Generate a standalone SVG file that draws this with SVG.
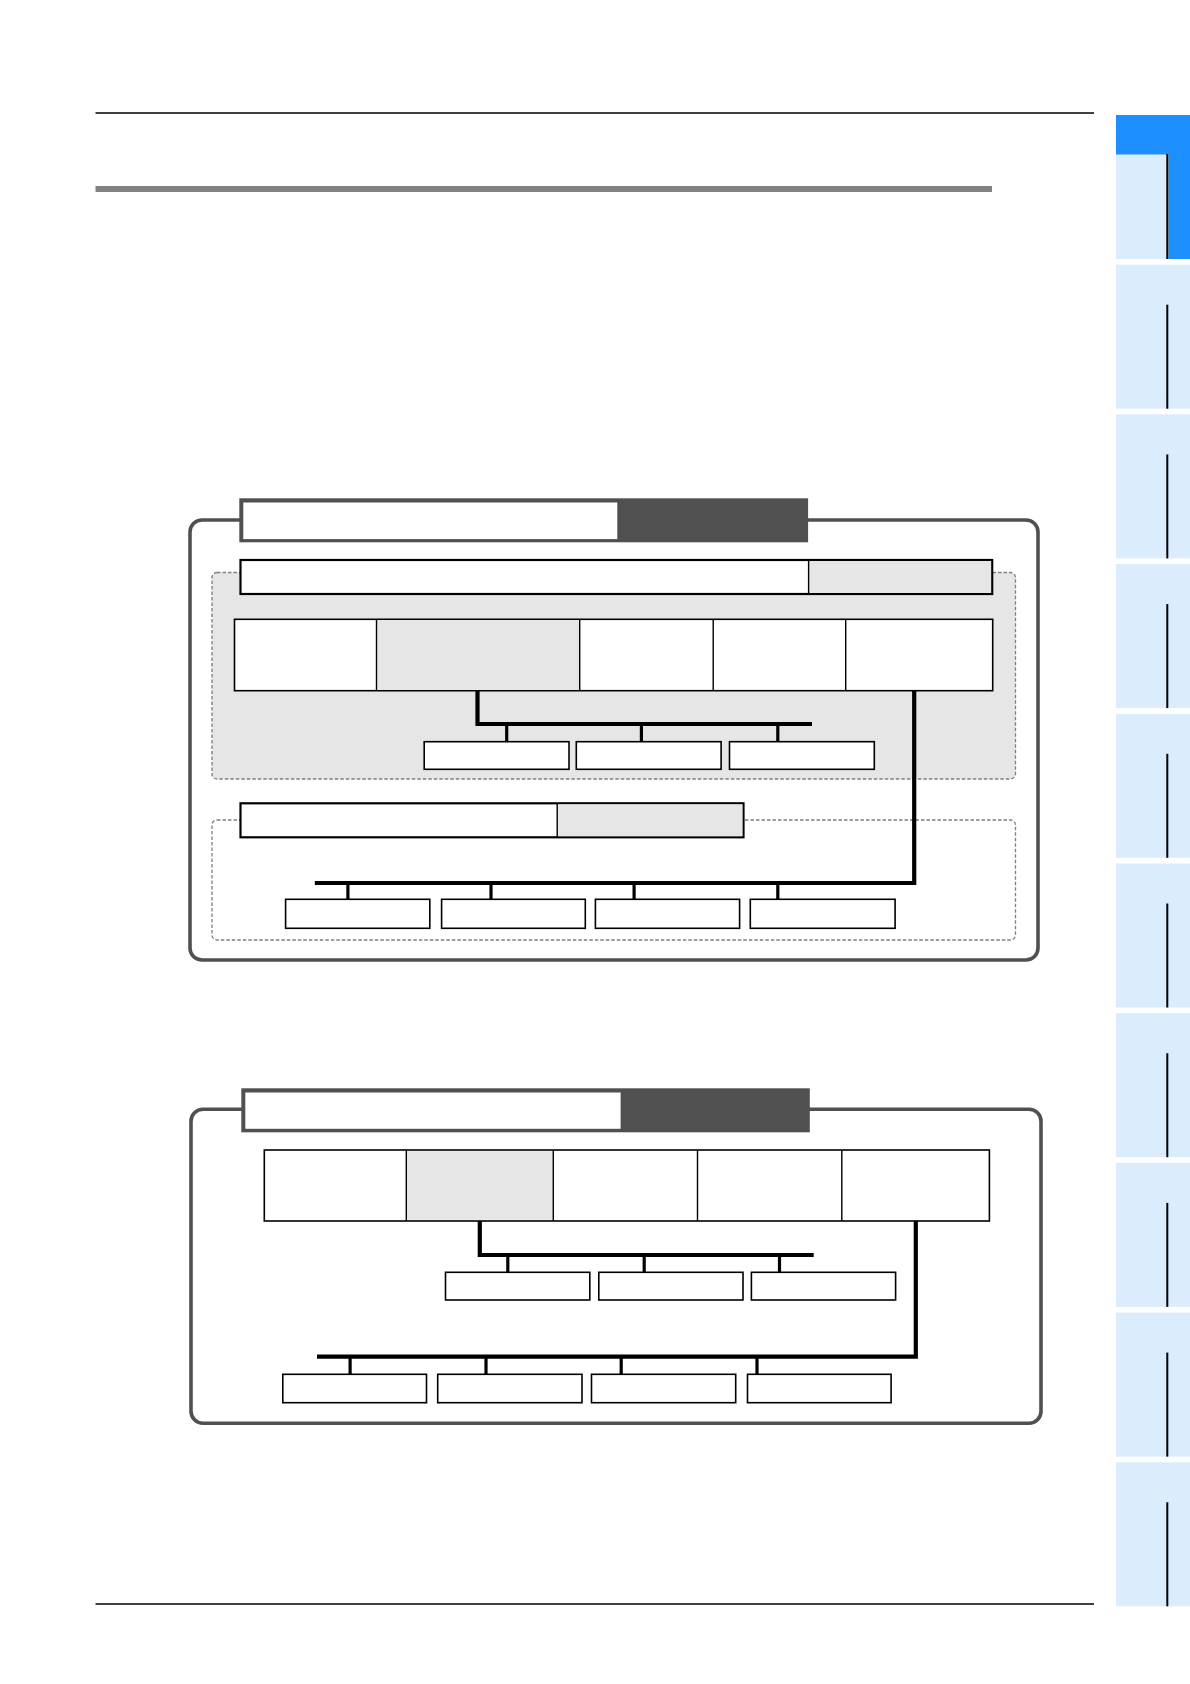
<svg xmlns="http://www.w3.org/2000/svg" width="1190" height="1684" viewBox="0 0 1190 1684">
<style>
.tab{fill:#dbecfd}
.tline{stroke:#000;stroke-width:2}
.outer{fill:none;stroke:#505050;stroke-width:3.6}
.ttl{fill:#505050}
.ttlw{fill:#fff}
.dash{stroke:#7f7f7f;stroke-width:1.3;stroke-dasharray:3.5 2}
.hb{fill:#fff;stroke:#000;stroke-width:2.2}
.gr{fill:#e6e6e6}
.bx{fill:#fff;stroke:#000;stroke-width:1.6}
.dv{stroke:#000;stroke-width:1.4}
.bus{fill:none;stroke:#000;stroke-width:4.2}
.drop{stroke:#000;stroke-width:3.2}
</style>
<rect width="1190" height="1684" fill="#fff"/>
<g id="page">
<line x1="95.5" y1="113" x2="1094" y2="113" stroke="#000" stroke-width="1.3"/>
<rect x="95.5" y="186" width="896.5" height="6" fill="#828282"/>
<line x1="95.5" y1="1604" x2="1094" y2="1604" stroke="#000" stroke-width="1.3"/>
</g>
<g id="tabs">
<rect x="1116" y="115" width="74" height="144" class="tab"/>
<rect x="1116" y="115" width="74" height="39.5" fill="#1e8fff"/>
<rect x="1168.5" y="154" width="21.5" height="105" fill="#1e8fff"/>
<line x1="1167.3" y1="154" x2="1167.3" y2="259" class="tline"/>
<rect x="1116" y="264.7" width="74" height="144" class="tab"/><line x1="1167.3" y1="304.7" x2="1167.3" y2="408.7" class="tline"/>
<rect x="1116" y="414.4" width="74" height="144" class="tab"/><line x1="1167.3" y1="454.4" x2="1167.3" y2="558.4" class="tline"/>
<rect x="1116" y="564.1" width="74" height="144" class="tab"/><line x1="1167.3" y1="604.1" x2="1167.3" y2="708.1" class="tline"/>
<rect x="1116" y="713.8" width="74" height="144" class="tab"/><line x1="1167.3" y1="753.8" x2="1167.3" y2="857.8" class="tline"/>
<rect x="1116" y="863.5" width="74" height="144" class="tab"/><line x1="1167.3" y1="903.5" x2="1167.3" y2="1007.5" class="tline"/>
<rect x="1116" y="1013.2" width="74" height="144" class="tab"/><line x1="1167.3" y1="1053.2" x2="1167.3" y2="1157.2" class="tline"/>
<rect x="1116" y="1162.9" width="74" height="144" class="tab"/><line x1="1167.3" y1="1202.9" x2="1167.3" y2="1306.9" class="tline"/>
<rect x="1116" y="1312.6" width="74" height="144" class="tab"/><line x1="1167.3" y1="1352.6" x2="1167.3" y2="1456.6" class="tline"/>
<rect x="1116" y="1462.3" width="74" height="144" class="tab"/><line x1="1167.3" y1="1502.3" x2="1167.3" y2="1606.3" class="tline"/>
</g>

<!-- Diagram 1 -->
<g id="d1-frame">
<rect x="190" y="520" width="848" height="440" rx="12" class="outer"/>
</g>
<g id="d1-title">
<rect x="239.3" y="498.3" width="568.8" height="44" class="ttl"/>
<rect x="243.3" y="502.5" width="374" height="36.6" class="ttlw"/>
</g>
<g id="d1-zone1">
<rect x="212" y="572.5" width="803.5" height="206.5" rx="5" class="gr dash"/>
</g>
<g id="d1-zone2">
<rect x="212" y="820" width="803.5" height="120" rx="5" fill="#fff" class="dash"/>
</g>
<g id="d1-header1">
<rect x="240.5" y="560" width="751.7" height="34" class="hb"/>
<rect x="808.6" y="561.1" width="182.5" height="31.8" class="gr"/>
<line x1="808.6" y1="560" x2="808.6" y2="594" class="dv"/>
</g>
<g id="d1-header2">
<rect x="240.5" y="803.3" width="503" height="34" class="hb"/>
<rect x="557.2" y="804.4" width="185.2" height="31.8" class="gr"/>
<line x1="557.2" y1="803.3" x2="557.2" y2="837.3" class="dv"/>
</g>
<g id="d1-row">
<rect x="234.5" y="619.3" width="758.2" height="71.4" class="bx"/>
<rect x="376.5" y="620.1" width="203.2" height="69.8" class="gr"/>
<line x1="376.5" y1="619.3" x2="376.5" y2="690.7" class="dv"/>
<line x1="579.7" y1="619.3" x2="579.7" y2="690.7" class="dv"/>
<line x1="713.2" y1="619.3" x2="713.2" y2="690.7" class="dv"/>
<line x1="845.7" y1="619.3" x2="845.7" y2="690.7" class="dv"/>
</g>
<g id="d1-connectors">
<polyline points="477.5,690.7 477.5,724 812,724" class="bus"/>
<line x1="506.7" y1="724" x2="506.7" y2="741.7" class="drop"/>
<line x1="641.4" y1="724" x2="641.4" y2="741.7" class="drop"/>
<line x1="777.8" y1="724" x2="777.8" y2="741.7" class="drop"/>
<polyline points="914.2,690.7 914.2,883 314.8,883" class="bus"/>
<line x1="347.9" y1="883" x2="347.9" y2="899.3" class="drop"/>
<line x1="491" y1="883" x2="491" y2="899.3" class="drop"/>
<line x1="634.1" y1="883" x2="634.1" y2="899.3" class="drop"/>
<line x1="777.8" y1="883" x2="777.8" y2="899.3" class="drop"/>
</g>
<g id="d1-mid">
<rect x="424.2" y="741.7" width="144.8" height="27.6" class="bx"/>
<rect x="576.3" y="741.7" width="144.8" height="27.6" class="bx"/>
<rect x="729.5" y="741.7" width="144.8" height="27.6" class="bx"/>
</g>
<g id="d1-bottom">
<rect x="285.6" y="899.3" width="144.2" height="29" class="bx"/>
<rect x="441.6" y="899.3" width="143.7" height="29" class="bx"/>
<rect x="595.4" y="899.3" width="144.2" height="29" class="bx"/>
<rect x="750.3" y="899.3" width="144.8" height="29" class="bx"/>
</g>

<!-- Diagram 2 -->
<g id="d2-frame">
<rect x="191" y="1109.3" width="850" height="314" rx="12" class="outer"/>
</g>
<g id="d2-title">
<rect x="241.3" y="1088.3" width="568.5" height="44" class="ttl"/>
<rect x="245.3" y="1092.5" width="375.3" height="36.3" class="ttlw"/>
</g>
<g id="d2-row">
<rect x="264.3" y="1150" width="725.1" height="71" class="bx" stroke-width="2.4"/>
<rect x="406.3" y="1151.2" width="147" height="68.6" class="gr"/>
<line x1="406.3" y1="1150" x2="406.3" y2="1221" class="dv"/>
<line x1="553.3" y1="1150" x2="553.3" y2="1221" class="dv"/>
<line x1="697.5" y1="1150" x2="697.5" y2="1221" class="dv"/>
<line x1="841.8" y1="1150" x2="841.8" y2="1221" class="dv"/>
</g>
<g id="d2-connectors">
<polyline points="479.8,1221 479.8,1255 813.7,1255" class="bus"/>
<line x1="507.8" y1="1255" x2="507.8" y2="1272.3" class="drop"/>
<line x1="644.2" y1="1255" x2="644.2" y2="1272.3" class="drop"/>
<line x1="779.5" y1="1255" x2="779.5" y2="1272.3" class="drop"/>
<polyline points="915.8,1221 915.8,1356.7 317,1356.7" class="bus"/>
<line x1="350.1" y1="1356.7" x2="350.1" y2="1374.3" class="drop"/>
<line x1="486" y1="1356.7" x2="486" y2="1374.3" class="drop"/>
<line x1="621.2" y1="1356.7" x2="621.2" y2="1374.3" class="drop"/>
<line x1="757" y1="1356.7" x2="757" y2="1374.3" class="drop"/>
</g>
<g id="d2-mid">
<rect x="445.5" y="1272.3" width="144.3" height="27.7" class="bx"/>
<rect x="598.8" y="1272.3" width="144.2" height="27.7" class="bx"/>
<rect x="751.4" y="1272.3" width="144.2" height="27.7" class="bx"/>
</g>
<g id="d2-bottom">
<rect x="282.8" y="1374.3" width="143.7" height="28.4" class="bx"/>
<rect x="437.7" y="1374.3" width="144.3" height="28.4" class="bx"/>
<rect x="591.5" y="1374.3" width="144.2" height="28.4" class="bx"/>
<rect x="747.5" y="1374.3" width="143.6" height="28.4" class="bx"/>
</g>
</svg>
